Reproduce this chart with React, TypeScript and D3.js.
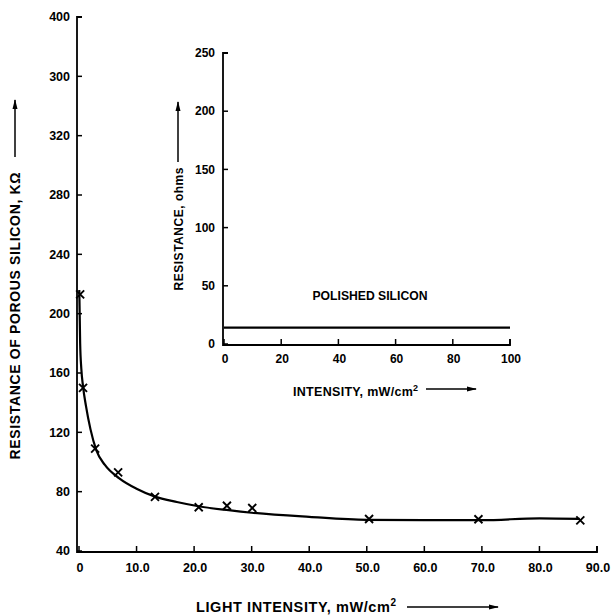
import React from "react";
import * as d3 from "d3";

// Main chart: porous silicon
const xTicks = [0, 10, 20, 30, 40, 50, 60, 70, 80, 90];
const xTickLabels = ["0", "10.0", "20.0", "30.0", "40.0", "50.0", "60.0", "70.0", "80.0", "90.0"];
const yTicks = [40, 80, 120, 160, 200, 240, 280, 320, 360, 400];
const yTickLabels = ["40", "80", "120", "160", "200", "240", "280", "320", "300", "400"];

const pointX = [0.2, 0.7, 2.8, 6.8, 13.2, 20.8, 25.7, 30.1, 50.4, 69.4, 87.1];
const pointY = [213, 150, 109, 93, 76.5, 69.5, 70.5, 69, 61.6, 61.4, 60.6];

const curveX = [0.05, 0.2, 0.4, 0.7, 1.2, 2, 3, 4.5, 7, 10, 13, 17, 21, 26, 30, 40, 50, 60, 70, 80, 87];
const curveY = [216, 180, 163, 151, 138, 122, 108, 98, 89, 82, 77, 73, 70, 67.5, 65.8, 63, 61, 60.8, 60.8, 62, 61.6];

// Inset: polished silicon
const insetXTicks = [0, 20, 40, 60, 80, 100];
const insetYTicks = [0, 50, 100, 150, 200, 250];
const polishedX = [0, 100];
const polishedY = [14, 14];

const FONT = "'Liberation Sans', Arial, sans-serif";

export default function App() {
  const x = d3.scaleLinear().domain([0, 90]).range([79, 597]);
  const y = d3.scaleLinear().domain([40, 400]).range([551, 17]);
  const ix = d3.scaleLinear().domain([0, 100]).range([224, 510]);
  const iy = d3.scaleLinear().domain([0, 250]).range([344, 53]);

  const curve = d3
    .line<number>()
    .x((_, i) => x(curveX[i]))
    .y((_, i) => y(curveY[i]))
    .curve(d3.curveMonotoneX)(curveX as any);

  const polished = d3
    .line<number>()
    .x((_, i) => ix(polishedX[i]))
    .y((_, i) => iy(polishedY[i]))(polishedX as any);

  const ax = 77; // main y-axis line x
  const ay = 552; // main x-axis line y
  const iax = 223;
  const iay = 345;

  const cross = (cx: number, cy: number, k: number) => {
    const s = 4;
    return (
      <path
        key={k}
        d={`M${cx - s},${cy - s}L${cx + s},${cy + s}M${cx - s},${cy + s}L${cx + s},${cy - s}`}
        stroke="#000"
        strokeWidth={1.9}
      />
    );
  };

  return (
    <svg
      width={611}
      height={615}
      style={{ position: "absolute", left: 0, top: 0, background: "#fff" }}
      fontFamily={FONT}
      fontWeight="bold"
    >
      <defs>
        <marker id="ah" viewBox="0 0 10 6" refX="9" refY="3" markerWidth="10" markerHeight="6" markerUnits="userSpaceOnUse" orient="auto">
          <path d="M0,0.5L10,3L0,5.5Z" fill="#000" />
        </marker>
      </defs>
      <rect width={611} height={615} fill="#fff" />

      {/* Main axes */}
      <path d={`M${ax + 5},${y(400)}H${ax}V${ay}H${x(90)}V${ay - 6}`} fill="none" stroke="#000" strokeWidth={1.8} />
      {yTicks.map((t, i) => (
        <g key={"yt" + i}>
          <line x1={ax} x2={ax + 5} y1={y(t)} y2={y(t)} stroke="#000" strokeWidth={1.5} />
          <text x={70} y={y(t)} dy="0.35em" textAnchor="end" fontSize={12.5}>
            {yTickLabels[i]}
          </text>
        </g>
      ))}
      {xTicks.map((t, i) => (
        <g key={"xt" + i}>
          <line x1={x(t)} x2={x(t)} y1={ay} y2={ay - 6} stroke="#000" strokeWidth={1.5} />
          <text x={x(t) + 1} y={ay + 20} textAnchor="middle" fontSize={12.5}>
            {xTickLabels[i]}
          </text>
        </g>
      ))}

      {/* Main y label */}
      <text
        transform={`translate(20,${316}) rotate(-90)`}
        textAnchor="middle"
        fontSize={14}
        textLength={287}
        lengthAdjust="spacing"
      >
        RESISTANCE OF POROUS SILICON, KΩ
      </text>
      <line x1={15} y1={157} x2={15} y2={100} stroke="#000" strokeWidth={1.5} markerEnd="url(#ah)" />

      {/* Main x label */}
      <text x={196} y={612} fontSize={14.5} letterSpacing={0.6}>
        LIGHT INTENSITY, mW/cm
        <tspan dy={-6} fontSize={10}>2</tspan>
      </text>
      <line x1={407} y1={607} x2={498} y2={607} stroke="#000" strokeWidth={1.5} markerEnd="url(#ah)" />

      {/* Curve and points */}
      <path d={curve || ""} fill="none" stroke="#000" strokeWidth={2.2} />
      {pointX.map((px, i) => cross(x(px), y(pointY[i]), i))}

      {/* Inset axes */}
      <path d={`M${iax + 5},${iy(250)}H${iax}V${iay}H${ix(100)}V${iay - 6}`} fill="none" stroke="#000" strokeWidth={1.8} />
      {insetYTicks.map((t, i) => (
        <g key={"iyt" + i}>
          <line x1={iax} x2={iax + 5} y1={iy(t)} y2={iy(t)} stroke="#000" strokeWidth={1.5} />
          <text x={215} y={iy(t)} dy="0.35em" textAnchor="end" fontSize={12}>
            {String(t)}
          </text>
        </g>
      ))}
      {insetXTicks.map((t, i) => (
        <g key={"ixt" + i}>
          <line x1={ix(t)} x2={ix(t)} y1={iay} y2={iay - 6} stroke="#000" strokeWidth={1.5} />
          <text x={ix(t) + 1} y={iay + 18} textAnchor="middle" fontSize={12}>
            {String(t)}
          </text>
        </g>
      ))}
      <path d={polished || ""} fill="none" stroke="#000" strokeWidth={2.2} />
      <text x={370} y={300} textAnchor="middle" fontSize={12.5} textLength={115} lengthAdjust="spacingAndGlyphs">
        POLISHED SILICON
      </text>

      {/* Inset y label */}
      <text
        transform={`translate(183,${229}) rotate(-90)`}
        textAnchor="middle"
        fontSize={12}
        textLength={123}
        lengthAdjust="spacing"
      >
        RESISTANCE, ohms
      </text>
      <line x1={178} y1={162} x2={178} y2={102} stroke="#000" strokeWidth={1.5} markerEnd="url(#ah)" />

      {/* Inset x label */}
      <text x={293} y={396} fontSize={12.5} letterSpacing={0.3}>
        INTENSITY, mW/cm
        <tspan dy={-5} fontSize={9}>2</tspan>
      </text>
      <line x1={426} y1={389} x2={476} y2={389} stroke="#000" strokeWidth={1.5} markerEnd="url(#ah)" />
    </svg>
  );
}
